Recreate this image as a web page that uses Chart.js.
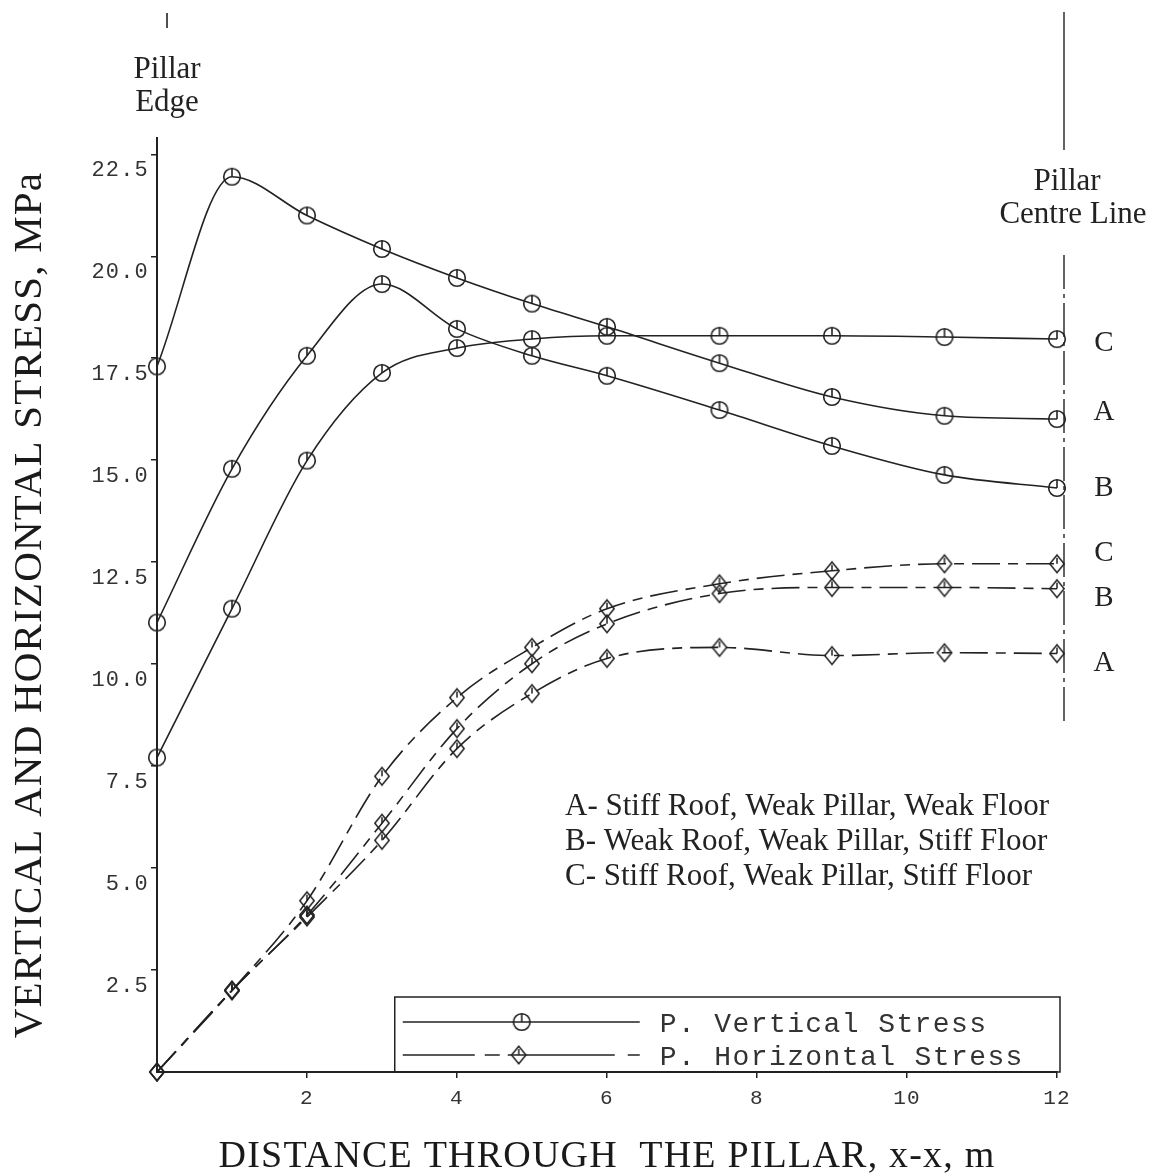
<!DOCTYPE html>
<html>
<head>
<meta charset="utf-8">
<script src="https://cdn.jsdelivr.net/npm/chart.js@4.4.1/dist/chart.umd.min.js"></script>
<style>
  html, body { margin: 0; padding: 0; background: #ffffff; }
  #wrap { width: 1156px; height: 1176px; position: relative; }
</style>
</head>
<body>
<div id="wrap"><canvas id="chart" width="1156" height="1176"></canvas></div>
<script>
// ---- data ----
const distances   = [0, 1, 2, 3, 4, 5, 6, 7.5, 9, 10.5, 12];
const verticalA   = [17.3, 21.95, 21.0, 20.18, 19.47, 18.84, 18.27, 17.38, 16.55, 16.09, 16.01];
const verticalB   = [11.02, 14.79, 17.56, 19.32, 18.22, 17.56, 17.07, 16.23, 15.35, 14.64, 14.32];
const verticalC   = [7.71, 11.36, 14.99, 17.14, 17.75, 17.97, 18.05, 18.05, 18.05, 18.02, 17.97];
const horizontalA = [0, 2.0, 3.8, 5.68, 7.93, 9.28, 10.14, 10.41, 10.21, 10.28, 10.26];
const horizontalB = [0, 2.0, 3.85, 6.10, 8.42, 10.01, 10.99, 11.73, 11.88, 11.88, 11.85];
const horizontalC = [0, 2.0, 4.2, 7.25, 9.18, 10.41, 11.36, 11.97, 12.29, 12.46, 12.46];
const yTickValues = [2.5, 5, 7.5, 10, 12.5, 15, 17.5, 20, 22.5];
const xTickValues = [2, 4, 6, 8, 10, 12];
const caseNotes = [
  'A- Stiff Roof, Weak Pillar, Weak Floor',
  'B- Weak Roof, Weak Pillar, Stiff Floor',
  'C- Stiff Roof, Weak Pillar, Stiff Floor'
];
const legendLabels = ['P. Vertical Stress', 'P. Horizontal Stress'];

const INK = '#222222';

function circleMarker() {
  const c = document.createElement('canvas');
  c.width = 22; c.height = 22;
  const g = c.getContext('2d');
  g.strokeStyle = INK; g.lineWidth = 1.6;
  g.beginPath(); g.arc(11, 11, 8.3, 0, Math.PI * 2); g.stroke();
  g.beginPath(); g.moveTo(11, 2.8); g.lineTo(11, 11); g.stroke();
  return c;
}
function diamondMarker() {
  const c = document.createElement('canvas');
  c.width = 20; c.height = 22;
  const g = c.getContext('2d');
  g.strokeStyle = INK; g.lineWidth = 1.5;
  g.beginPath();
  g.moveTo(10, 2.2); g.lineTo(17.2, 11); g.lineTo(10, 19.8); g.lineTo(2.8, 11); g.closePath();
  g.stroke();
  g.beginPath(); g.moveTo(10, 5); g.lineTo(10, 11); g.stroke();
  return c;
}
const circleImg = circleMarker();
const diamondImg = diamondMarker();
const H_DASH = [28, 8, 10, 8];

function makeSet(label, values, horizontal, endText, endDy) {
  return {
    label: label,
    data: distances.map((d, i) => ({ x: d, y: values[i] })),
    borderColor: INK,
    borderWidth: 1.6,
    borderDash: horizontal ? H_DASH : [],
    pointStyle: horizontal ? diamondImg : circleImg,
    pointRadius: 9,
    cubicInterpolationMode: 'monotone',
    fill: false,
    clip: false,
    endLabel: { text: endText, dy: endDy }
  };
}

const datasets = [
  makeSet('Vertical A', verticalA, false, 'A', -7),
  makeSet('Vertical B', verticalB, false, 'B', 0),
  makeSet('Vertical C', verticalC, false, 'C', 4),
  makeSet('Horizontal A', horizontalA, true, 'A', 10),
  makeSet('Horizontal B', horizontalB, true, 'B', 10),
  makeSet('Horizontal C', horizontalC, true, 'C', -10)
];

const spacing = {
  id: 'spacing',
  beforeDraw(chart) { try { chart.ctx.letterSpacing = '1.2px'; } catch (e) {} },
  beforeDatasetsDraw(chart) { try { chart.ctx.letterSpacing = '0px'; } catch (e) {} }
};

const annotations = {
  id: 'annotations',
  afterDraw(chart) {
    const { ctx, chartArea: a, scales: { x, y } } = chart;
    ctx.save();
    try { ctx.letterSpacing = '0px'; } catch (e) {}
    ctx.fillStyle = INK;
    ctx.strokeStyle = INK;
    ctx.textBaseline = 'middle';

    // Pillar edge marker and text
    const ex = x.getPixelForValue(0) + 10;
    ctx.lineWidth = 1.6;
    ctx.beginPath(); ctx.moveTo(ex, 13); ctx.lineTo(ex, 28); ctx.stroke();
    ctx.font = '31px "Liberation Serif"';
    ctx.textAlign = 'center';
    ctx.fillText('Pillar', ex, 70);
    ctx.fillText('Edge', ex, 103);

    // Pillar centre line
    const cx = x.getPixelForValue(12) + 7;
    ctx.lineWidth = 1.4;
    ctx.beginPath(); ctx.moveTo(cx, 12); ctx.lineTo(cx, 150); ctx.stroke();
    ctx.setLineDash([34, 5, 4, 5]);
    ctx.beginPath(); ctx.moveTo(cx, 255); ctx.lineTo(cx, y.getPixelForValue(8.6)); ctx.stroke();
    ctx.setLineDash([]);
    ctx.fillText('Pillar', cx + 3, 182);
    ctx.fillText('Centre Line', cx + 9, 215);

    // end labels
    ctx.font = '29px "Liberation Serif"';
    chart.data.datasets.forEach((ds, i) => {
      const meta = chart.getDatasetMeta(i);
      const p = meta.data[meta.data.length - 1];
      ctx.fillText(ds.endLabel.text, p.x + 47, p.y + ds.endLabel.dy);
    });

    // case notes
    ctx.textAlign = 'left';
    ctx.font = '31px "Liberation Serif"';
    const nx = x.getPixelForValue(5.44);
    const ny = y.getPixelForValue(6.5);
    caseNotes.forEach((t, k) => ctx.fillText(t, nx, ny + k * 35));

    // legend box
    const bl = x.getPixelForValue(3.17), br = a.right + 3;
    const bt = a.bottom - 75, bb = a.bottom;
    ctx.lineWidth = 1.5;
    ctx.strokeRect(bl, bt, br - bl, bb - bt);
    const r1 = a.bottom - 50, r2 = a.bottom - 17;
    ctx.beginPath(); ctx.moveTo(bl + 8, r1); ctx.lineTo(bl + 245, r1); ctx.stroke();
    ctx.drawImage(circleImg, bl + 127 - 11, r1 - 11);
    [[8, 80], [90, 105], [113, 220], [233, 245]].forEach(s => {
      ctx.beginPath(); ctx.moveTo(bl + s[0], r2); ctx.lineTo(bl + s[1], r2); ctx.stroke();
    });
    ctx.drawImage(diamondImg, bl + 124 - 10, r2 - 11);
    ctx.font = '28px "Liberation Mono"';
    ctx.fillStyle = '#333333';
    try { ctx.letterSpacing = '1.4px'; } catch (e) {}
    ctx.fillText(legendLabels[0], bl + 265, r1 + 3);
    ctx.fillText(legendLabels[1], bl + 265, r2 + 3);
    ctx.restore();
  }
};

new Chart(document.getElementById('chart'), {
  type: 'line',
  data: { datasets: datasets },
  options: {
    responsive: false,
    animation: false,
    layout: { padding: { top: 138, right: 99, bottom: 0, left: 0 } },
    plugins: { legend: { display: false }, tooltip: { enabled: false } },
    scales: {
      x: {
        type: 'linear', min: 0, max: 12,
        afterBuildTicks: s => { s.ticks = xTickValues.map(v => ({ value: v })); },
        afterFit: s => { s.height = 104; },
        border: { display: true, color: INK, width: 2 },
        grid: { display: true, drawOnChartArea: false, drawTicks: true, tickLength: 6, color: INK, lineWidth: 1.5 },
        ticks: { font: { family: 'Liberation Mono', size: 21 }, color: '#333333', padding: 8, maxRotation: 0,
                 callback: v => String(v) },
        title: { display: true, text: 'DISTANCE THROUGH  THE PILLAR, x-x, m',
                 font: { family: 'Liberation Serif', size: 38, lineHeight: 1 }, color: '#1a1a1a',
                 padding: { top: 0, bottom: 0 } }
      },
      y: {
        type: 'linear', min: 0, max: 22.9,
        afterBuildTicks: s => { s.ticks = yTickValues.map(v => ({ value: v })); },
        afterFit: s => { s.width = 157; },
        border: { display: true, color: INK, width: 2 },
        grid: { display: true, drawOnChartArea: false, drawTicks: true, tickLength: 6, color: INK, lineWidth: 1.5 },
        ticks: { font: { family: 'Liberation Mono', size: 22 }, color: '#333333', padding: 2, labelOffset: 16,
                 callback: v => Number(v).toFixed(1) },
        title: { display: true, text: 'VERTICAL AND HORIZONTAL STRESS, MPa',
                 font: { family: 'Liberation Serif', size: 41, lineHeight: 1.2 }, color: '#1a1a1a',
                 padding: { top: 6, bottom: 0 } }
      }
    }
  },
  plugins: [spacing, annotations]
});
</script>
</body>
</html>
